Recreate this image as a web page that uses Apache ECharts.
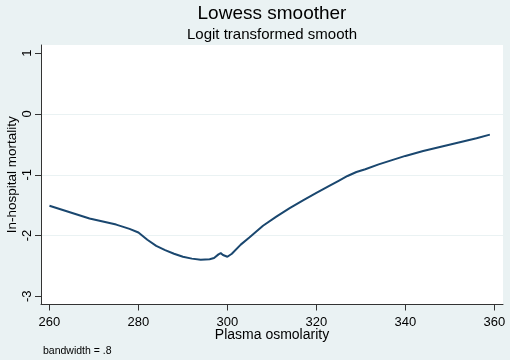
<!DOCTYPE html>
<html>
<head>
<meta charset="utf-8">
<script src="https://cdn.jsdelivr.net/npm/echarts@6/dist/echarts.min.js"></script>
<style>
  html, body { margin: 0; padding: 0; background: #eaf2f3; }
  #chart { width: 510px; height: 360px; }
</style>
</head>
<body>
<div id="chart"></div>
<script>
// lowess curve
const osmolarity = [260, 263, 266, 269, 272, 275, 278, 280, 282, 284, 286, 288, 290, 292, 294, 296, 297, 298, 298.5, 299, 300,
  301, 303, 305, 308, 311, 314, 317, 320, 323, 325, 327, 329, 331, 334, 337, 340, 344, 348, 352, 356, 359]
const mortality = [-1.51, -1.58, -1.65, -1.72, -1.77, -1.82, -1.89, -1.95, -2.07, -2.17, -2.24, -2.30, -2.35, -2.38, -2.40, -2.39, -2.37, -2.31, -2.29, -2.32, -2.35,
  -2.30, -2.15, -2.03, -1.84, -1.69, -1.55, -1.42, -1.30, -1.18, -1.10, -1.02, -0.955, -0.91, -0.83, -0.76, -0.69, -0.61, -0.54, -0.47, -0.40, -0.34]

const xTicks = [260, 280, 300, 320, 340, 360]
const yTicks = [-3, -2, -1, 0, 1]

const font = 'Liberation Sans, Arial, sans-serif'
const axisColor = '#333'

const chart = echarts.init(document.getElementById('chart'))

const option = {
  backgroundColor: '#eaf2f3',
  animation: false,
  title: [
    {
      text: 'Lowess smoother',
      left: 272, top: 4, padding: 0, textAlign: 'center',
      textStyle: { fontFamily: font, fontSize: 19, fontWeight: 'normal', color: '#000' }
    },
    {
      text: 'Logit transformed smooth',
      left: 272, top: 27, padding: 0, textAlign: 'center',
      textStyle: { fontFamily: font, fontSize: 15, fontWeight: 'normal', color: '#000' }
    },
    {
      text: 'bandwidth = .8',
      left: 43, top: 346, padding: 0,
      textStyle: { fontFamily: font, fontSize: 10.5, fontWeight: 'normal', color: '#000' }
    }
  ],
  grid: {
    left: 41, right: 7, top: 45, bottom: 55.5,
    outerBoundsMode: 'none',
    containLabel: false,
    show: true, backgroundColor: '#fff', borderWidth: 0
  },
  xAxis: {
    type: 'value',
    min: 258.1, max: 361.95,
    name: 'Plasma osmolarity',
    nameLocation: 'middle',
    nameGap: 24,
    nameMoveOverlap: false,
    nameTextStyle: { fontFamily: font, fontSize: 14, color: '#000', verticalAlign: 'top' },
    axisLine: { show: true, onZero: false, lineStyle: { color: axisColor, width: 1 } },
    axisTick: { show: true, length: 6, customValues: xTicks, lineStyle: { color: axisColor } },
    axisLabel: { customValues: xTicks, fontFamily: font, fontSize: 13, color: '#000', margin: 11 },
    splitLine: { show: false }
  },
  yAxis: {
    type: 'value',
    min: -3.135, max: 1.135,
    name: 'In-hospital mortality',
    nameLocation: 'middle',
    nameRotate: 90,
    nameGap: 22,
    nameMoveOverlap: false,
    nameTextStyle: { fontFamily: font, fontSize: 13.5, color: '#000' },
    axisLine: { show: true, onZero: false, lineStyle: { color: axisColor, width: 1 } },
    axisTick: { show: true, length: 6, customValues: yTicks, lineStyle: { color: axisColor } },
    axisLabel: {
      customValues: yTicks, rotate: 90, align: 'center', verticalAlign: 'bottom',
      fontFamily: font, fontSize: 13, color: '#000', margin: 7
    },
    splitLine: { show: true, showMinLine: false, showMaxLine: false, lineStyle: { color: '#eaf2f3', width: 1 } }
  },
  series: [{
    type: 'line',
    data: osmolarity.map((x, i) => [x, mortality[i]]),
    showSymbol: false,
    smooth: false,
    lineStyle: { color: '#1a476f', width: 2 }
  }]
}

chart.setOption(option)
</script>
</body>
</html>
